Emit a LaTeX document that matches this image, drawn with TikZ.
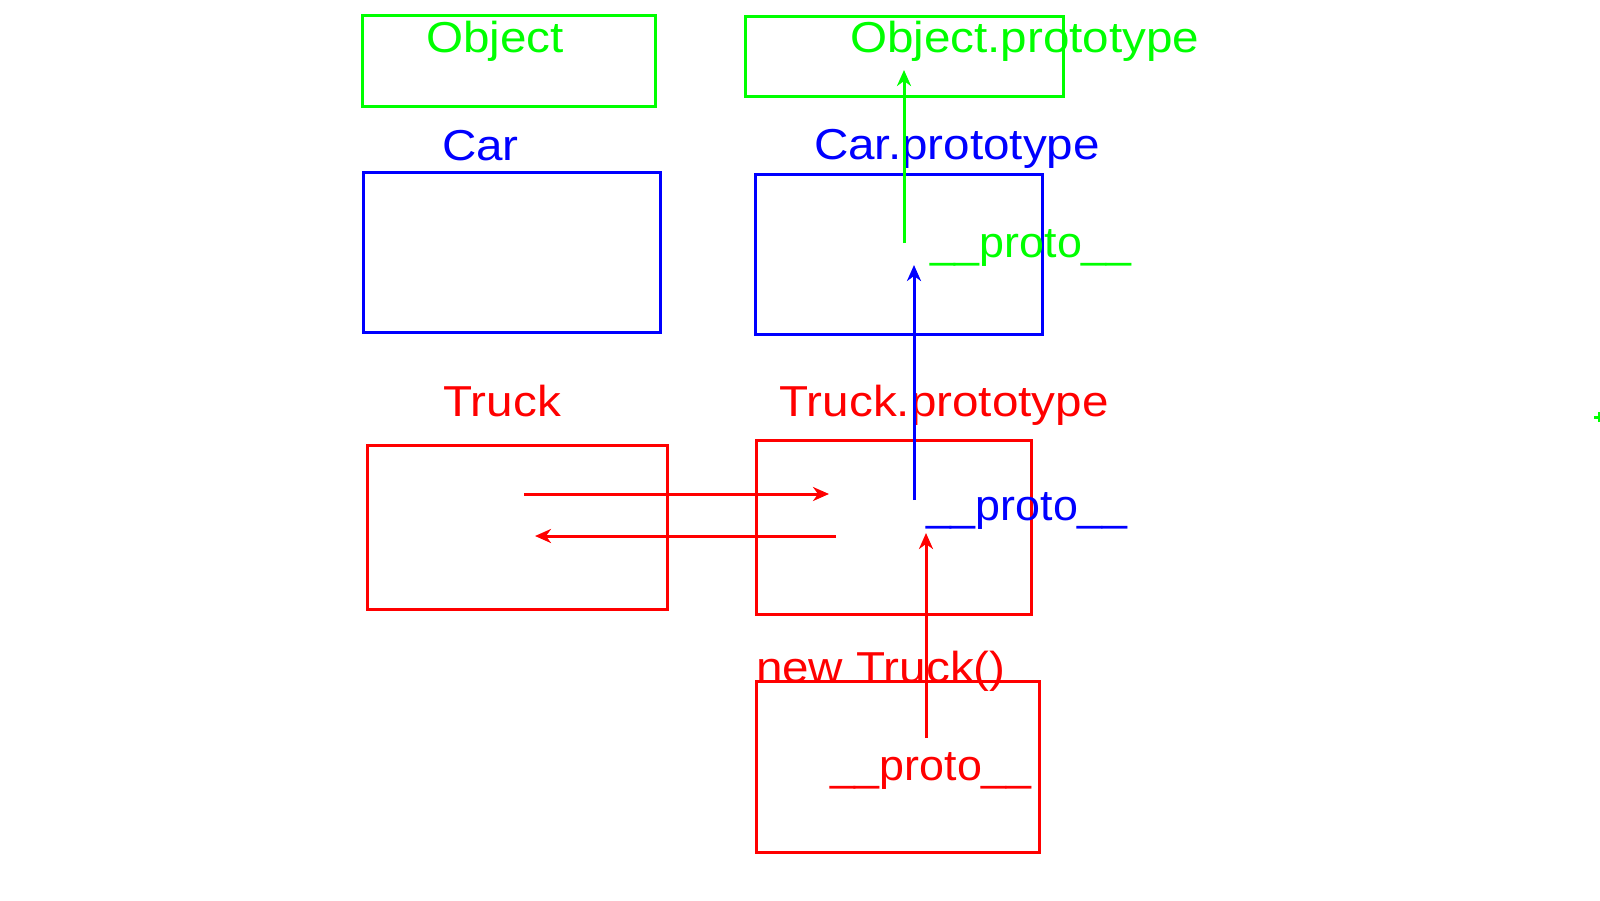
\documentclass[tikz,border=0pt]{standalone}
\usepackage{fontspec}
\setmainfont{Liberation Sans}[FakeStretch=1.1]
\newfontfamily\protofont{Liberation Sans}[FakeStretch=1.035]
\usetikzlibrary{arrows.meta}
\definecolor{cg}{RGB}{0,255,0}
\definecolor{cb}{RGB}{0,0,255}
\definecolor{cr}{RGB}{255,0,0}
\tikzset{
  box/.style={draw, line width=3pt, inner sep=0pt, outer sep=0pt},
  lbl/.style={inner sep=0pt, outer sep=0pt, anchor=base west, font=\fontsize{43.3}{50}\selectfont},
  protolbl/.style={lbl, font=\protofont\fontsize{43.3}{50}\selectfont},
  link/.style={line width=3pt, -{Stealth[length=16pt,width=14pt,inset=5pt]}},
}
\begin{document}
\begin{tikzpicture}[x=1pt,y=-1pt]
\useasboundingbox (0,0) rectangle (1600,900);
% boxes
\node[box, cg, minimum width=293pt, minimum height=91pt] (objbox) at (508.5,60.5) {};
\node[box, cg, minimum width=318pt, minimum height=80pt] (objprotobox) at (904,56) {};
\node[box, cb, minimum width=297pt, minimum height=160pt] (carbox) at (511.5,252) {};
\node[box, cb, minimum width=287pt, minimum height=160pt] (carprotobox) at (898.5,254) {};
\node[box, cr, minimum width=300pt, minimum height=164pt] (truckbox) at (517,527) {};
\node[box, cr, minimum width=275pt, minimum height=174pt] (truckprotobox) at (893.5,527) {};
\node[box, cr, minimum width=283pt, minimum height=171pt] (newtruckbox) at (897.5,766.5) {};
% labels
\node[lbl, text=cg] (objlbl) at (426,52) {Object};
\node[lbl, text=cg] (objprotolbl) at (850,52) {Object.prototype};
\node[lbl, text=cb] (carlbl) at (442,160) {Car};
\node[lbl, text=cb] (carprotolbl) at (814,159.5) {Car.prototype};
\node[protolbl, text=cg] (carproto) at (930,257) {\_\_proto\_\_};
\node[lbl, text=cr] (trucklbl) at (443.5,416.5) {Truck};
\node[lbl, text=cr] (truckprotolbl) at (779.5,416.5) {Truck.prototype};
\node[protolbl, text=cb] (truckproto) at (926,520) {\_\_proto\_\_};
\node[lbl, text=cr] (newtrucklbl) at (756,682) {new Truck()};
\node[protolbl, text=cr] (newtruckproto) at (830,780) {\_\_proto\_\_};
% connector end points
\coordinate (g1) at (904,243);
\coordinate (g2) at (904,70);
\coordinate (b1) at (914,500);
\coordinate (b2) at (914,265);
\coordinate (r1) at (926,738);
\coordinate (r2) at (926,533);
\coordinate (r3) at (524,494);
\coordinate (r4) at (829,494);
\coordinate (r5) at (836,536);
\coordinate (r6) at (535,536);
\coordinate (m1) at (1594,417);
\coordinate (m2) at (1600,417);
\coordinate (m3) at (1599,412);
\coordinate (m4) at (1599,422);
% connectors
\draw[link, cg] (g1) -- (g2);
\draw[link, cb] (b1) -- (b2);
\draw[link, cr] (r1) -- (r2);
\draw[link, cr] (r3) -- (r4);
\draw[link, cr] (r5) -- (r6);
\draw[cg, line width=3pt] (m1) -- (m2) (m3) -- (m4);
\end{tikzpicture}
\end{document}
